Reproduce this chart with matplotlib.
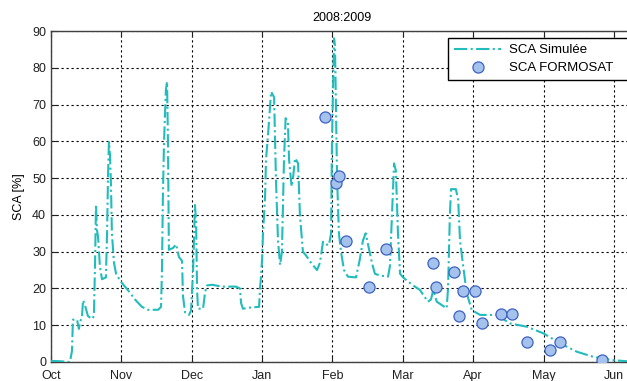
import matplotlib
matplotlib.use("Agg")
import matplotlib.pyplot as plt

plt.rcParams['font.family'] = ['Liberation Sans', 'DejaVu Sans']

# Simulated SCA (days since 1 Oct 2008, %)
sim_days = [0, 3.9, 8.2, 9.1, 9.5, 11.3, 12.1, 12.6, 13.4, 13.9, 14.7, 16.0, 17.8, 18.6,
            19.1, 19.5, 19.9, 20.4, 21.2, 22.1, 23.8, 24.3, 24.7, 25.1, 25.6, 26.0, 26.4,
            27.3, 28.2, 30.3, 33.4, 36.4, 39.4, 42.0, 46.4, 47.7, 48.1, 48.5, 49.0, 49.8,
            50.3, 50.7, 51.1, 52.9, 54.2, 55.5, 56.8, 57.2, 58.1, 59.8, 60.7, 61.6, 62.4,
            62.9, 63.3, 63.7, 65.9, 66.8, 67.6, 69.8, 74.1, 80.2, 81.9, 82.4, 83.2, 86.3,
            90.2, 90.6, 91.0, 91.5, 91.9, 92.8, 93.2, 94.1, 95.0, 95.4, 96.7, 97.5, 98.4,
            99.3, 100.1, 101.0, 101.7, 102.7, 103.2, 104.3, 104.9, 105.8, 107.1, 107.9,
            109.2, 110.5, 112.7, 115.3, 116.6, 117.9, 119.2, 120.5, 121.4, 121.8, 122.7,
            123.1, 123.5, 124.0, 124.8, 125.7, 127.0, 128.7, 132.2, 133.9, 135.2, 136.4,
            137.4, 139.1, 140.4, 142.6, 146.1, 146.9, 147.8, 148.7, 149.5, 150.4, 151.3,
            152.6, 156.5, 159.9, 163.4, 164.7, 165.7, 167.2, 171.5, 172.1, 172.9, 173.4,
            175.5, 176.5, 177.3, 178.7, 180.2, 182.4, 186.0, 193.2, 198.9, 206.2, 213.4,
            220.6, 227.9, 235.1, 243.7, 249.7]
sim_sca = [0.3, 0.2, 0, 3, 11.5, 11.5, 9, 11, 12, 16.8, 15.5, 12.5, 11.7, 12.5,
           27, 42.7, 36, 34, 26, 22.5, 23, 35, 50, 59.8, 56, 48, 35,
           27, 24, 21.8, 19.5, 17, 15, 14.2, 14.2, 15, 25, 45, 60, 74,
           76.2, 60, 30.5, 31, 32, 28.5, 27.5, 18, 13.5, 12.8, 14, 25, 42.7,
           38, 20, 14.5, 14.5, 19, 20.8, 21, 20.5, 20.5, 20, 16, 14.5, 14.8,
           15, 20, 23, 28, 35, 45, 55, 62, 70, 73.5, 72, 50, 33,
           26.4, 30, 55, 66.3, 65, 55, 47.7, 50, 55.4, 54, 40,
           30, 29, 27, 25, 27, 32.7, 32, 31.8, 35, 60, 88,
           86, 70, 50, 35, 30, 25, 23.2, 23, 28, 33, 35,
           32, 27, 24, 23.5, 23.2, 26, 40, 54, 52, 35, 24,
           23, 21, 19.6, 16.4, 17, 19.6, 16.4, 14.6, 20, 40, 47,
           47, 44, 33, 25.9, 18.7, 14.1, 12.8, 12.8, 10.5, 9.6, 7.8,
           5.1, 2.8, 1.4, 0.5, 0.2]

# FORMOSAT observations
obs_days = [118.8, 123.5, 125.0, 127.9, 137.8, 145.1, 165.5, 166.8, 174.7, 176.9,
            178.7, 183.8, 186.7, 195.1, 200.0, 206.3, 216.3, 220.6, 239.0]
obs_sca = [66.7, 48.8, 50.7, 32.9, 20.3, 30.7, 26.8, 20.3, 24.5, 12.5,
           19.4, 19.3, 10.5, 13.0, 13.1, 5.5, 3.2, 5.4, 0.5]

month_labels = ['Oct', 'Nov', 'Dec', 'Jan', 'Feb', 'Mar', 'Apr', 'May', 'Jun']
tick_step = 30.5
yticks = [0, 10, 20, 30, 40, 50, 60, 70, 80, 90]

fig = plt.figure(figsize=(6.27, 3.81), dpi=100)
ax = fig.add_axes([51/627, 19/381, 581/627, 331/381])

ax.plot(sim_days, sim_sca, linestyle='-.', color='#22bcbc', linewidth=1.5,
        label='SCA Simulée', zorder=3)
ax.plot(obs_days, obs_sca, linestyle='none', marker='o', markersize=8,
        markerfacecolor='#a4c2ec', markeredgecolor='#3d62c4', markeredgewidth=0.9,
        label='SCA FORMOSAT', zorder=4)

ax.set_xlim(0, 581/2.307)
ax.set_ylim(0, 90)
ax.set_xticks([i * tick_step for i in range(len(month_labels))])
ax.set_xticklabels(month_labels)
ax.set_yticks(yticks)
ax.tick_params(direction='in', top=True, right=True, length=4, labelsize=9,
               colors='#202020')
ax.tick_params(axis='x', pad=5.5)
ax.tick_params(axis='y', pad=3.5)
ax.grid(True, color='black', linestyle=(0, (2, 2.5)), linewidth=0.8)
for s in ax.spines.values():
    s.set_color('#404040')
    s.set_linewidth(1.0)

ax.set_title('2008:2009', fontsize=9, pad=7)
ax.set_ylabel('SCA [%]', fontsize=9, labelpad=5)

x0 = (448 - 51) / 581
y1 = (362 - 38) / 331
h = 41 / 331
w = (640 - 448) / 581
leg = ax.legend(loc='upper left', bbox_to_anchor=(x0, y1 - h, w, h), mode='expand',
                fontsize=9.5, frameon=True, fancybox=False, framealpha=1,
                edgecolor='black', handlelength=3.6, borderpad=0.45,
                labelspacing=0.45, handletextpad=0.6, borderaxespad=0)
leg.get_frame().set_linewidth(1.0)

fig.savefig('out.png', dpi=100)
